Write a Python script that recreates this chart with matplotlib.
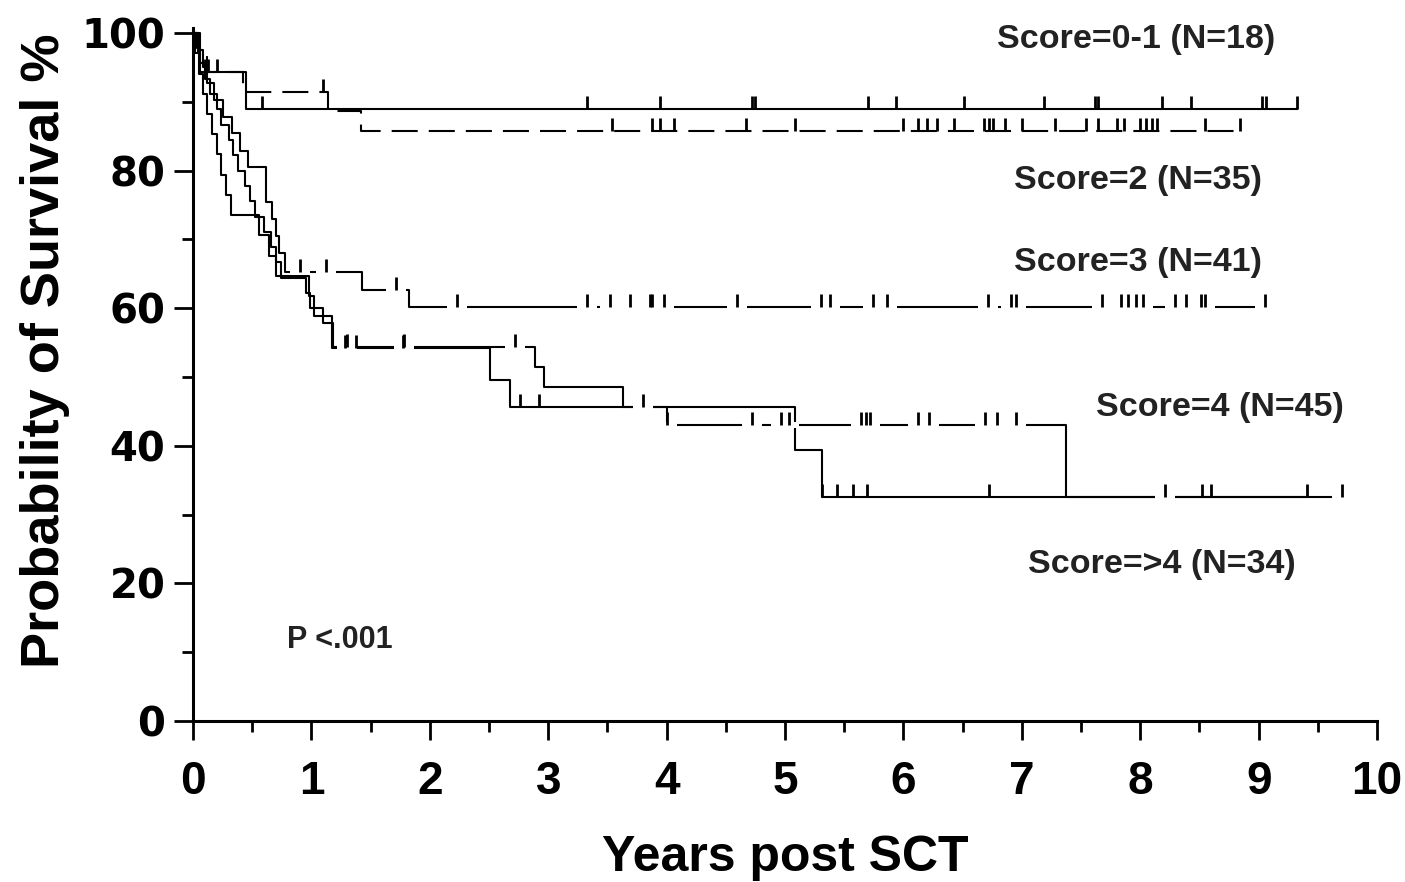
import numpy as np
import matplotlib.pyplot as plt
from matplotlib.path import Path
from matplotlib.ticker import MultipleLocator

# Kaplan-Meier steps: years post SCT, % surviving
t_01 = [0, 0.06, 0.45, 9.32]
s_01 = [100, 94.4, 88.9, 88.9]
c_01 = [0.1, 0.13, 0.58, 3.33, 3.94, 4.72, 4.75, 5.70, 5.94, 6.51, 7.19, 7.62,
        7.64, 8.18, 8.43, 9.03, 9.06, 9.32]

t_2 = [0, 0.04, 0.12, 0.42, 1.14, 1.42, 8.84]
s_2 = [100, 97.1, 94.3, 91.4, 88.6, 85.7, 85.7]
c_2 = [0.2, 1.1, 3.54, 3.88, 3.94, 4.06, 4.67, 5.08, 6.0, 6.12, 6.2, 6.28, 6.43,
       6.68, 6.72, 6.76, 6.86, 7.0, 7.28, 7.54, 7.64, 7.8, 7.86, 8.0, 8.05, 8.1,
       8.14, 8.55, 8.84]

t_3 = [0, 0.04, 0.08, 0.12, 0.18, 0.25, 0.33, 0.4, 0.46, 0.62, 0.67, 0.7, 0.73,
       0.78, 1.43, 1.82, 9.05]
s_3 = [100, 97.6, 95.1, 92.7, 90.2, 87.8, 85.4, 82.9, 80.5, 75.4, 73.0, 70.5,
       68.0, 65.2, 62.7, 60.2, 60.2]
c_3 = [0.9, 1.12, 1.71, 2.23, 3.33, 3.52, 3.69, 3.86, 3.88, 3.98, 4.59, 5.30,
       5.38, 5.74, 5.86, 6.71, 6.91, 6.95, 7.68, 7.84, 7.90, 7.96, 8.02, 8.29,
       8.39, 8.51, 8.55, 9.05]

t_4 = [0, 0.03, 0.06, 0.1, 0.14, 0.2, 0.24, 0.3, 0.34, 0.38, 0.44, 0.48, 0.52,
       0.6, 0.66, 0.7, 0.74, 0.95, 0.99, 1.1, 1.18, 2.89, 2.96, 3.63, 4.0, 7.37, 9.7]
s_4 = [100, 97.8, 95.6, 93.3, 91.1, 88.9, 86.7, 84.4, 82.2, 80.0, 77.8, 75.6,
       73.3, 71.1, 68.9, 66.7, 64.4, 62.2, 60.0, 57.8, 54.4, 51.5, 48.5, 45.7,
       43.0, 32.6, 32.6]
c_4 = [1.3, 1.78, 2.72, 3.8, 4.0, 4.72, 4.97, 5.03, 5.64, 5.68, 5.72, 6.12, 6.22,
       6.69, 6.79, 6.95, 8.21, 9.7]

t_5 = [0, 0.02, 0.05, 0.08, 0.12, 0.16, 0.2, 0.24, 0.28, 0.32, 0.56, 0.64, 0.7,
       0.98, 1.02, 1.17, 2.51, 2.68, 5.08, 5.31, 9.41]
s_5 = [100, 97.1, 94.1, 91.2, 88.2, 85.3, 82.4, 79.4, 76.5, 73.5, 70.6, 67.6,
       64.7, 61.8, 58.8, 54.2, 49.6, 45.7, 39.4, 32.6, 32.6]
c_5 = [1.28, 1.38, 1.77, 2.76, 2.92, 5.31, 5.44, 5.57, 5.69, 6.72, 8.52, 8.6, 9.41]

labels = ['Score=0-1 (N=18)', 'Score=2 (N=35)', 'Score=3 (N=41)',
          'Score=4 (N=45)', 'Score=>4 (N=34)']
p_text = 'P <.001'

# censor tick sits on top of the line; the white box cuts the line round it
tick = Path([(0, 0), (0, 1)], [Path.MOVETO, Path.LINETO])
gap = Path([(-1, -0.3), (1, -0.3), (1, 0.3), (-1, 0.3), (-1, -0.3)], closed=True)


def km(ax, t, s, c, ls, cut=False):
    ax.step(t, s, where='post', color='k', lw=1.5, ls=ls, clip_on=False, zorder=2)
    lev = np.asarray(s)[np.searchsorted(t, c, side='right') - 1]
    if cut:
        ax.plot(c, lev, ls='none', marker=gap, ms=15, mfc='w', mec='w', mew=0,
                zorder=3, clip_on=False)
    ax.plot(c, lev, ls='none', marker=tick, ms=19, mfc='none', mec='k', mew=2,
            zorder=4, clip_on=False)


fig = plt.figure(figsize=(14.05, 8.82), dpi=100)
ax = fig.add_axes([0.1374, 0.1825, 0.8427, 0.7863])

km(ax, t_01, s_01, c_01, '-')
km(ax, t_2, s_2, c_2, (0, (12.5, 5.3)))
km(ax, t_3, s_3, c_3, '-', cut=True)
km(ax, t_4, s_4, c_4, '-', cut=True)
km(ax, t_5, s_5, c_5, '-')

ax.set_xlim(0, 10)
ax.set_ylim(0, 100.8)
for side in ['top', 'right']:
    ax.spines[side].set_visible(False)
for side in ['left', 'bottom']:
    ax.spines[side].set_linewidth(2.2)

ax.set_xticks(range(11), labels=[str(i) for i in range(11)],
              fontsize=33, fontweight='bold', family='Liberation Sans')
ax.set_yticks(range(0, 101, 20), labels=[str(i) for i in range(0, 101, 20)],
              fontsize=29, fontweight='bold', family='DejaVu Sans')
ax.xaxis.set_minor_locator(MultipleLocator(0.5))
ax.yaxis.set_minor_locator(MultipleLocator(10))
ax.tick_params(axis='x', which='major', length=14, width=2, pad=14)
ax.tick_params(axis='y', which='major', length=14, width=2, pad=6)
ax.tick_params(which='minor', length=8, width=2)

ax.set_xlabel('Years post SCT', fontsize=36, fontweight='bold', family='Liberation Sans')
ax.set_ylabel('Probability of Survival %', fontsize=39, fontweight='bold',
              family='Liberation Sans')
ax.xaxis.set_label_coords(0.5, -0.164)
ax.yaxis.set_label_coords(-0.104, 0.534)

label_pos = [(6.79, 99.0), (6.93, 78.5), (6.93, 66.7), (7.63, 45.6), (7.05, 22.7)]
for (x, y), lab in zip(label_pos, labels):
    ax.text(x, y, lab, ha='left', va='center', fontsize=24.5, color='#222222',
            family='Liberation Sans', fontweight='bold')
ax.text(0.79, 11.8, p_text, ha='left', va='center', fontsize=22,
        color='#222222', family='Liberation Sans', fontweight='bold')

fig.savefig('out.png', dpi=100)
